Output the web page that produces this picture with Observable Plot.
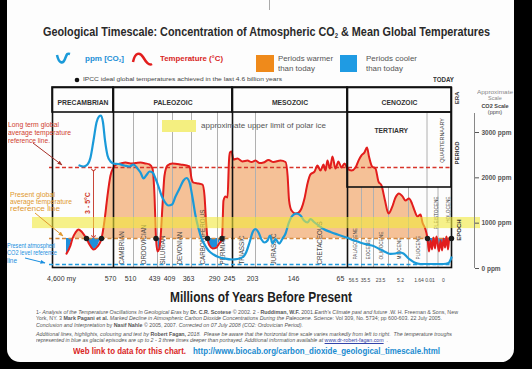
<!DOCTYPE html>
<html><head><meta charset="utf-8">
<script src="https://cdn.jsdelivr.net/npm/d3@7"></script>
<script src="https://cdn.jsdelivr.net/npm/@observablehq/plot@0.6"></script>
<style>
html,body{margin:0;padding:0;background:#000;}
#root{position:relative;width:532px;height:369px;overflow:hidden;font-family:"Liberation Sans",Arial,sans-serif;}
#panel{position:absolute;left:7px;top:-20px;width:507px;height:382px;background:#fdfdfd;border-radius:13px;}
.layer{position:absolute;left:0;top:0;width:532px;height:369px;}
.t{position:absolute;white-space:nowrap;line-height:1;transform-origin:0 50%;}
.t sub{font-size:0.55em;vertical-align:baseline;position:relative;top:0.3em;}
</style></head><body>
<div id="root"><div id="panel"></div>
<div id="temp" class="layer"></div>
<div id="co2" class="layer"></div>
<svg id="deco" class="layer" width="532" height="369">
  <defs>
    <marker id="mr" viewBox="0 0 10 10" refX="9" refY="5" markerWidth="5" markerHeight="5" orient="auto"><path d="M0,1L10,5L0,9z" fill="#a8322a"/></marker>
    <marker id="mo" viewBox="0 0 10 10" refX="9" refY="5" markerWidth="5" markerHeight="5" orient="auto"><path d="M0,1L10,5L0,9z" fill="#e0982f"/></marker>
    <marker id="mb" viewBox="0 0 10 10" refX="9" refY="5" markerWidth="5" markerHeight="5" orient="auto"><path d="M0,1L10,5L0,9z" fill="#1a8fe0"/></marker>
  </defs>
  <line x1="269.5" y1="0" x2="269.5" y2="10" stroke="#aaa"/>
  <path d="M57,55 C59,64 63,64 65,59 S67,53 70,54" stroke="#1a9ad9" stroke-width="2.5" fill="none"/>
  <path d="M133,62 C135,52 140,52 143,57 S149,66 152,64" stroke="#e21d1d" stroke-width="2.5" fill="none"/>
  <rect x="256" y="55" width="18" height="17" fill="#ef8a1b"/>
  <rect x="340" y="55" width="17" height="17" fill="#1f9be3"/>
  <circle cx="77" cy="80" r="2.3" fill="#111"/>
  <rect x="162" y="120" width="34" height="12" fill="#f4ef80"/>
  <path d="M33,143 L62,165" stroke="#a8322a" stroke-width="1" marker-end="url(#mr)"/>
  <path d="M35,213 L63,236" stroke="#e0982f" stroke-width="1" marker-end="url(#mo)"/>
  <path d="M25,258 L45,263" stroke="#1a8fe0" stroke-width="1" marker-end="url(#mb)"/>
</svg>
<div id="txt" class="layer"></div>
</div>
<script>
// ---------- data ----------
const ageBreaks = [4600,570,510,439,409,363,290,245,203,146,65,56.5,35.5,23.5,5.2,1.64,0.01,0];

const eraNames = ["PRECAMBRIAN","PALEOZOIC","MESOZOIC","CENOZOIC"];
const eraBounds = [4600,570,245,65,0];

const periodNames = ["CAMBRIAN","ORDOVICIAN","SILURIAN","DEVONIAN","CARBONIFEROUS","PERMIAN","TRIASSIC","JURASSIC","CRETACEOUS"];
const periodBounds = [570,510,439,409,363,290,245,203,146,65];

const epochNames = ["PALAEOCENE","EOCENE","OLIGOCENE","MIOCENE","PLIOCENE","PLEISTOCENE","HOLOCENE"];
const epochBounds = [65,56.5,35.5,23.5,5.2,1.64,0.01,0];

const cenozoicPeriods = ["TERTIARY","QUARTERNAARY"];
const cenozoicPeriodBounds = [65,1.64,0];

const tickAges = [570,510,439,409,363,290,245,203,146];
const tickLabels = ["570","510","439","409","363","290","245","203","146"];
const cenozoicTickAge = [65];
const cenozoicTickLabel = ["65"];
const smallTickAges = [56.5,35.5,23.5,5.2,1.64,0.01,0];
const smallTickLabels = ["56.5","35.5","23.5","5.2","1.64","0.01","0"];

// temperature (°C)
const tempAge = [3675,3411,3279,3080,2882,2684,2486,2354,2155,1891,1627,1363,1164,966,768,570,
561,549,534,519,504,489,474.5,462.7,453.8,447.9,443.4,439,436,433,429,425,419,409,
389.6,367.8,363,357.4,343.3,332.1,326.5,322.3,318.1,312.5,304,292.8,287,276.5,272,266,260,255.5,252.5,248,
243.2,235.9,226.7,217.6,210.3,203,197.4,191.9,184.9,178,168.2,161.2,158.4,156.3,152.9,147.4,142.8,138.1,133.3,128.5,
123.8,117.4,112.7,107.9,103.1,100,96.8,92.9,88.9,84.1,79.4,74.6,69.8,65,
62.6,60.1,58.3,56.5,51.25,46.9,43.4,38.1,33.9,31.5,29.1,26.3,23.5,20.3,17.1,13.9,10.7,8.0,5.1,4.53,
4.05,3.47,2.89,2.51,1.93,1.57,1.34,1.12,0.90,0.68,0.45,0.23,0.0093,0.0081,0.0070,0.0059,0.0048,0.0037,0.0026,0.0015,0];
const tempC = [13.15,13.61,14.0,14.34,14.51,14.39,14.17,14.0,13.66,13.38,13.55,14.0,15.01,16.42,17.55,18.0,
18.17,18.23,18.28,18.23,18.25,18.28,18.23,18.17,17.94,16.42,14.0,13.27,13.38,14.0,15.86,17.55,18.11,18.23,
18.17,18.06,17.38,17.15,17.10,17.04,16.42,15.01,14.0,13.61,13.44,13.49,13.66,14.0,16.14,16.37,16.31,18.39,18.85,18.9,
18.45,18.51,18.34,18.39,18.31,18.39,18.25,18.28,18.42,18.31,18.39,18.31,17.55,16.14,15.58,15.41,15.46,15.69,16.25,17.10,
17.61,17.77,18.11,17.83,18.17,17.83,18.39,17.94,18.62,17.94,18.34,18.0,18.23,17.94,
17.83,18.0,18.39,18.68,18.85,19.13,18.62,18.06,17.94,17.21,16.99,16.14,15.41,15.75,16.31,16.54,16.37,16.14,16.25,15.97,
15.58,15.24,15.35,14.90,14.51,14.0,13.27,13.89,13.38,14.06,13.44,14.11,13.27,13.89,13.32,14.0,13.49,14.11,13.38,14.06,14.0];

// CO2 (ppm)
const co2Age = [2816,2552,2288,2089,1891,1693,1528,1396,1263,1131,966,768,570,
555,537,522,510,498.2,489.3,480.4,471.5,462.7,453.8,444.9,437,431,425,417,410,401.7,392,382.4,375.1,
367.8,360.2,351.8,343.3,334.9,326.5,315.3,301.2,287,269,248,
235.9,224.9,219.4,213.9,208.5,203,198.8,194.7,190.5,186.3,182.8,179.3,175.1,170.2,165.4,161.2,157,151.4,146,139.6,
134.1,128.5,123.8,118.2,111.1,103.1,92,80.9,71.4,65,
62,58.9,56.5,46,35.5,31.5,28.3,25.1,21.7,17.1,13.4,9.8,6.1,4.82,4.05,2.89,1.74,0.82,0.08,0.0059,0.0022,0];
const co2Ppm = [2272,2250,2294,2449,2824,3221,3353,3375,3221,2824,2493,2360,2316,
2305,2272,2250,2294,2206,2118,1985,2063,2140,2118,1985,1809,1610,1478,1390,1412,1588,1765,1941,1996,
1897,1566,1169,882,662,529,397,309,254,221,199,
210,265,375,574,794,871,794,640,574,618,728,552,651,552,662,772,993,1169,1213,1169,
1059,1015,1092,1026,949,871,805,750,706,677,
629,596,563,529,496,441,397,353,324,331,353,331,243,188,132,99,99,99,99,99,121,243];

const idealAges = [2354,1363,443.4,318.1,276.5,1.57,0];
const presentT = 14, longTermT = 18;
const presentCO2 = 90;
const iceBand = {lo: 880, hi: 1125};
const ppmTicks = [0,1000,2000,3000];

// ---------- scales ----------
const xRange = [52,113,133,157,172,191,217,232,255,296,347,361,373,388,408,426.5,437.5,451];
const xs = d3.scaleLinear().domain(ageBreaks).range(xRange);
const mid = (a,b) => xs.invert((xs(a)+xs(b))/2);
const font = "Liberation Sans, Arial, sans-serif";

const temps = tempAge.map((a,i)=>({age:a, t:tempC[i]}));
const co2 = co2Age.map((a,i)=>({age:a, ppm:co2Ppm[i]}));
const eras = eraNames.map((n,i)=>({name:n, a:eraBounds[i], b:eraBounds[i+1]}));
const periods = periodNames.map((n,i)=>({name:n, a:periodBounds[i], b:periodBounds[i+1]}));
const epochs = epochNames.map((n,i)=>({name:n, a:epochBounds[i], b:epochBounds[i+1]}));
const epochsLow = epochs.slice(0,5), epochsHigh = epochs.slice(5);
const cPeriods = cenozoicPeriods.map((n,i)=>({name:n, a:cenozoicPeriodBounds[i], b:cenozoicPeriodBounds[i+1]}));

const tempPlot = Plot.plot({
  width:532, height:369, marginTop:87, marginRight:81, marginBottom:102, marginLeft:52,
  style:{background:"transparent", fontFamily:font, overflow:"visible"},
  x:{type:"linear", domain:ageBreaks, range:xRange, axis:null},
  y:{type:"linear", domain:[presentT,longTermT], range:[238,167], axis:null},
  marks:[
    Plot.areaY(temps,{x:"age", y1:()=>presentT, y2:d=>Math.max(d.t,presentT), fill:"#f5c197", curve:"monotone-x"}),
    Plot.areaY(temps,{x:"age", y1:()=>presentT, y2:d=>Math.min(d.t,presentT), fill:"#1e8fdc", curve:"monotone-x"}),
    Plot.ruleX(periodBounds.slice(1,-2).concat([1.64]),{stroke:"#b0b0b0", strokeWidth:1, insetTop:25}),
    Plot.ruleX(epochBounds.slice(1,4).concat([5.2,0.01]),{stroke:"#b0b0b0", strokeWidth:1, insetTop:100}),
    Plot.text(periods,{x:d=>mid(d.a,d.b), text:"name", frameAnchor:"bottom", dy:-3, rotate:-90, textAnchor:"start", fontSize:6.3, fill:"#444"}),
    Plot.text(epochsLow,{x:d=>mid(d.a,d.b), text:"name", frameAnchor:"bottom", dy:-8, dx:2, rotate:-90, textAnchor:"start", fontSize:4.7, fill:"#444"}),
    Plot.text(epochsHigh,{x:d=>mid(d.a,d.b), text:"name", frameAnchor:"top", dy:109, dx:2, rotate:-90, textAnchor:"end", fontSize:4.7, fill:"#444"}),
    Plot.ruleY([longTermT],{stroke:"#d8342a", strokeWidth:1.5, strokeDasharray:"4,2.5", insetLeft:-3}),
    Plot.ruleY([presentT],{stroke:"#d48a3f", strokeWidth:1.5, strokeDasharray:"4,2.5", insetLeft:-3}),
    Plot.line(temps,{x:"age", y:"t", stroke:"#e21d1d", strokeWidth:2, curve:"monotone-x"}),
    Plot.dot(idealAges,{x:d=>d, y:()=>presentT, r:2.7, fill:"#1c1c1c"}),
    Plot.link([0],{x1:()=>1891, x2:()=>1891, y1:()=>17.85, y2:()=>14.1, stroke:"#c8463a", strokeWidth:1, markerStart:"arrow", markerEnd:"arrow"}),
    Plot.text(["3 - 5°C"],{x:()=>2288, y:()=>(presentT+longTermT)/2, rotate:-90, fill:"#d03a2a", fontWeight:"bold", fontSize:7}),
    Plot.rect(eras,{x1:"a", x2:"b", insetBottom:155, stroke:"#111", strokeWidth:1.6, fill:"none"}),
    Plot.ruleX(eraBounds.slice(1,-1),{stroke:"#111", strokeWidth:1.6}),
    Plot.rect([{a:65,b:0}],{x1:"a", x2:"b", insetTop:25, insetBottom:80, stroke:"#111", strokeWidth:1.6, fill:"none"}),
    Plot.frame({stroke:"#111", strokeWidth:1.6}),
    Plot.text(eras,{x:d=>mid(d.a,d.b), text:"name", frameAnchor:"top", dy:13, fontWeight:"bold", fontSize:6.8, fill:"#333"}),
    Plot.text(cPeriods.slice(0,1),{x:d=>mid(d.a,d.b), text:"name", frameAnchor:"top", dy:41, dx:4, fontWeight:"bold", fontSize:6.8, fill:"#333"}),
    Plot.text(cPeriods.slice(1),{x:d=>mid(d.a,d.b), text:"name", frameAnchor:"top", dy:53, dx:1, rotate:-90, fontSize:5.4, fill:"#444"}),
    Plot.text(tickAges,{x:d=>d, text:(d,i)=>tickLabels[i], frameAnchor:"bottom", dy:13, dx:-3, fontSize:7, fill:"#333"}),
    Plot.text(cenozoicTickAge,{x:d=>d, text:(d,i)=>cenozoicTickLabel[i], frameAnchor:"bottom", dy:13, dx:-7, fontSize:7, fill:"#333"}),
    Plot.text(smallTickAges,{x:d=>d, text:(d,i)=>smallTickLabels[i], frameAnchor:"bottom", dy:14, dx:-8, fontSize:5, fill:"#444"}),
    Plot.text(["4,600 my"],{x:()=>4600, frameAnchor:"bottom", dy:13, dx:9, fontSize:7, fill:"#333"})
  ]
});
document.getElementById("temp").appendChild(tempPlot);

const co2Plot = Plot.plot({
  width:532, height:369, marginTop:113, marginRight:58, marginBottom:101, marginLeft:52,
  style:{background:"transparent", fontFamily:font, overflow:"visible"},
  x:{type:"linear", domain:ageBreaks, range:xRange, axis:null},
  y:{type:"linear", domain:[0,3000], range:[268,132]},
  marks:[
    Plot.ruleY([presentCO2],{stroke:"#1f9be0", strokeWidth:1.5, strokeDasharray:"4,2.5", insetLeft:-3, insetRight:23}),
    Plot.line(co2,{x:"age", y:"ppm", stroke:"#1a9ad9", strokeWidth:2.2, curve:"monotone-x"}),
    Plot.rect([iceBand],{x1:()=>4600, x2:()=>0, y1:"lo", y2:"hi", fill:"#f2ea3c", fillOpacity:0.6, insetLeft:-20, insetRight:-29}),
    Plot.ruleX([0],{dx:23, stroke:"#888"}),
    Plot.axisY({anchor:"right", ticks:ppmTicks, tickSize:4, tickPadding:3, tickFormat:d=>d+" ppm", fontSize:6.5, fontWeight:"bold", color:"#555", label:null})
  ]
});
document.getElementById("co2").appendChild(co2Plot);

// ---------- text overlay ----------
const txt = document.getElementById("txt");
function T(html, o){
  const el = document.createElement("div");
  el.className = "t";
  el.innerHTML = html;
  const size = o.size || 6.5;
  el.style.fontSize = size+"px";
  el.style.color = o.color || "#444";
  if (o.bold) el.style.fontWeight = "bold";
  if (o.italic) el.style.fontStyle = "italic";
  txt.appendChild(el);
  const w0 = el.getBoundingClientRect().width;
  const w = o.w || w0;
  if (o.rot){
    el.style.left = o.cx+"px"; el.style.top = o.cy+"px";
    el.style.transformOrigin = "0 0";
    el.style.transform = "rotate(-90deg) translate(-50%,-50%)";
    return;
  }
  const left = o.cx !== undefined ? o.cx - w/2 : o.x;
  el.style.left = left+"px";
  el.style.top = (o.cy - size*0.49)+"px";
  if (o.w) el.style.transform = `scaleX(${w/w0})`;
}
T("Geological Timescale: Concentration of Atmospheric CO<sub>2</sub> &amp; Mean Global Temperatures",{x:43,cy:32.3,size:12.6,w:447,bold:1,color:"#2a2a2a"});
T("ppm [CO<sub>2</sub>]",{x:85,cy:58.5,size:8,w:39,bold:1,color:"#1b8fd6"});
T("Temperature (°C)",{x:160,cy:58.5,size:8,w:63,bold:1,color:"#d8261e"});
T("Periods warmer",{x:278,cy:58.5,size:7.3,w:55,color:"#555"});
T("than today",{x:278,cy:68.5,size:7.3,w:37,color:"#555"});
T("Periods cooler",{x:366,cy:58.5,size:7.3,w:51,color:"#555"});
T("than today",{x:366,cy:68.5,size:7.3,w:37,color:"#555"});
T("IPCC ideal global temperatures achieved in the last 4.6 billion years",{x:83,cy:80,size:5.8,w:199,color:"#444"});
T("TODAY",{x:433,cy:80,size:6.5,w:21,bold:1,color:"#333"});
T("approximate upper limit of polar ice",{x:201,cy:125.5,size:8,w:125,color:"#555"});
T("Approximate",{cx:495,cy:92.5,size:5.5,w:36,color:"#888"});
T("Scale",{cx:495,cy:99,size:5.5,color:"#888"});
T("CO2 Scale",{cx:495,cy:106.5,size:5.5,bold:1,color:"#444"});
T("(ppm)",{cx:495,cy:113,size:5.5,color:"#444"});
T("ERA",{cx:457,cy:98,size:6,bold:1,color:"#333",rot:1});
T("PERIOD",{cx:457,cy:153,size:6,bold:1,color:"#333",rot:1});
T("EPOCH",{cx:459,cy:230,size:6,bold:1,color:"#333",rot:1});
T("Long term global",{x:8,cy:125,size:6.5,w:51,color:"#d04030"});
T("average temperature",{x:8,cy:133,size:6.5,w:63,color:"#d04030"});
T("reference line.",{x:8,cy:141,size:6.5,w:42,color:"#d04030"});
T("Present global",{x:10,cy:195,size:6.5,w:45,color:"#e0982f"});
T("average temperature",{x:10,cy:202.5,size:6.5,w:62,color:"#e0982f"});
T("reference line",{x:10,cy:209.5,size:6.5,w:50,color:"#e0982f"});
T("Present atmospheri",{x:7,cy:246,size:6.5,w:48,color:"#1a8fe0"});
T("CO2 level reference",{x:7,cy:253,size:6.5,w:50,color:"#1a8fe0"});
T("line",{x:7,cy:261,size:6.5,w:10,color:"#1a8fe0"});
T("Millions of Years Before Present",{x:170,cy:297,size:14.5,w:182,bold:1,color:"#1e1e1e"});
T("1- <i>Analysis of the Temperature Oscillations In Geological Eras</i> by <b>Dr. C.R. Scotese</b> © 2002. 2 - <b>Ruddiman, W.F.</b> 2001.<i>Earth's Climate past and future</i> .W. H. Freeman &amp; Sons, New",{x:36,cy:312.5,size:5.4,w:422,color:"#555"});
T("York, NY. 3 <b>Mark Pagani et al.</b> <i>Marked Decline in Atmospheric Carbon Dioxide Concentrations During the Paleocene.</i> Science: Vol 309, No. 5734; pp 600-603. 22 July 2005.",{x:36,cy:319,size:5.4,w:406,color:"#555"});
T("<i>Conclusion and Interpretation</i> by <b>Nasif Nahle</b> © 2005, 2007. <i>Corrected on 07 July 2008 (CO2: Ordovician Period).</i>",{x:36,cy:325.5,size:5.4,w:267,color:"#555"});
T("<i>Additional lines, highlights, colouring and text by</i> <b>Robert Fagan,</b> <i>2018.&nbsp; Please be aware that the horizontal time scale varies markedly from left to right.&nbsp; The temperature troughs</i>",{x:36,cy:334.5,size:5.4,w:416,color:"#555"});
T("<i>represented in blue as glacial episodes are up to 2 - 3 three times deeper than portrayed. Additional information available at</i> <u style='color:#3344aa'>www.dr-robert-fagan.com</u> &nbsp;.",{x:36,cy:341,size:5.4,w:352,color:"#555"});
T("Web link to data for this chart.",{x:73,cy:351,size:8.5,w:113,bold:1,color:"#d9261f"});
T("http://www.biocab.org/carbon_dioxide_geological_timescale.html",{x:193,cy:351,size:8.5,w:247,bold:1,color:"#1a8bd0"});
</script>
</body></html>
